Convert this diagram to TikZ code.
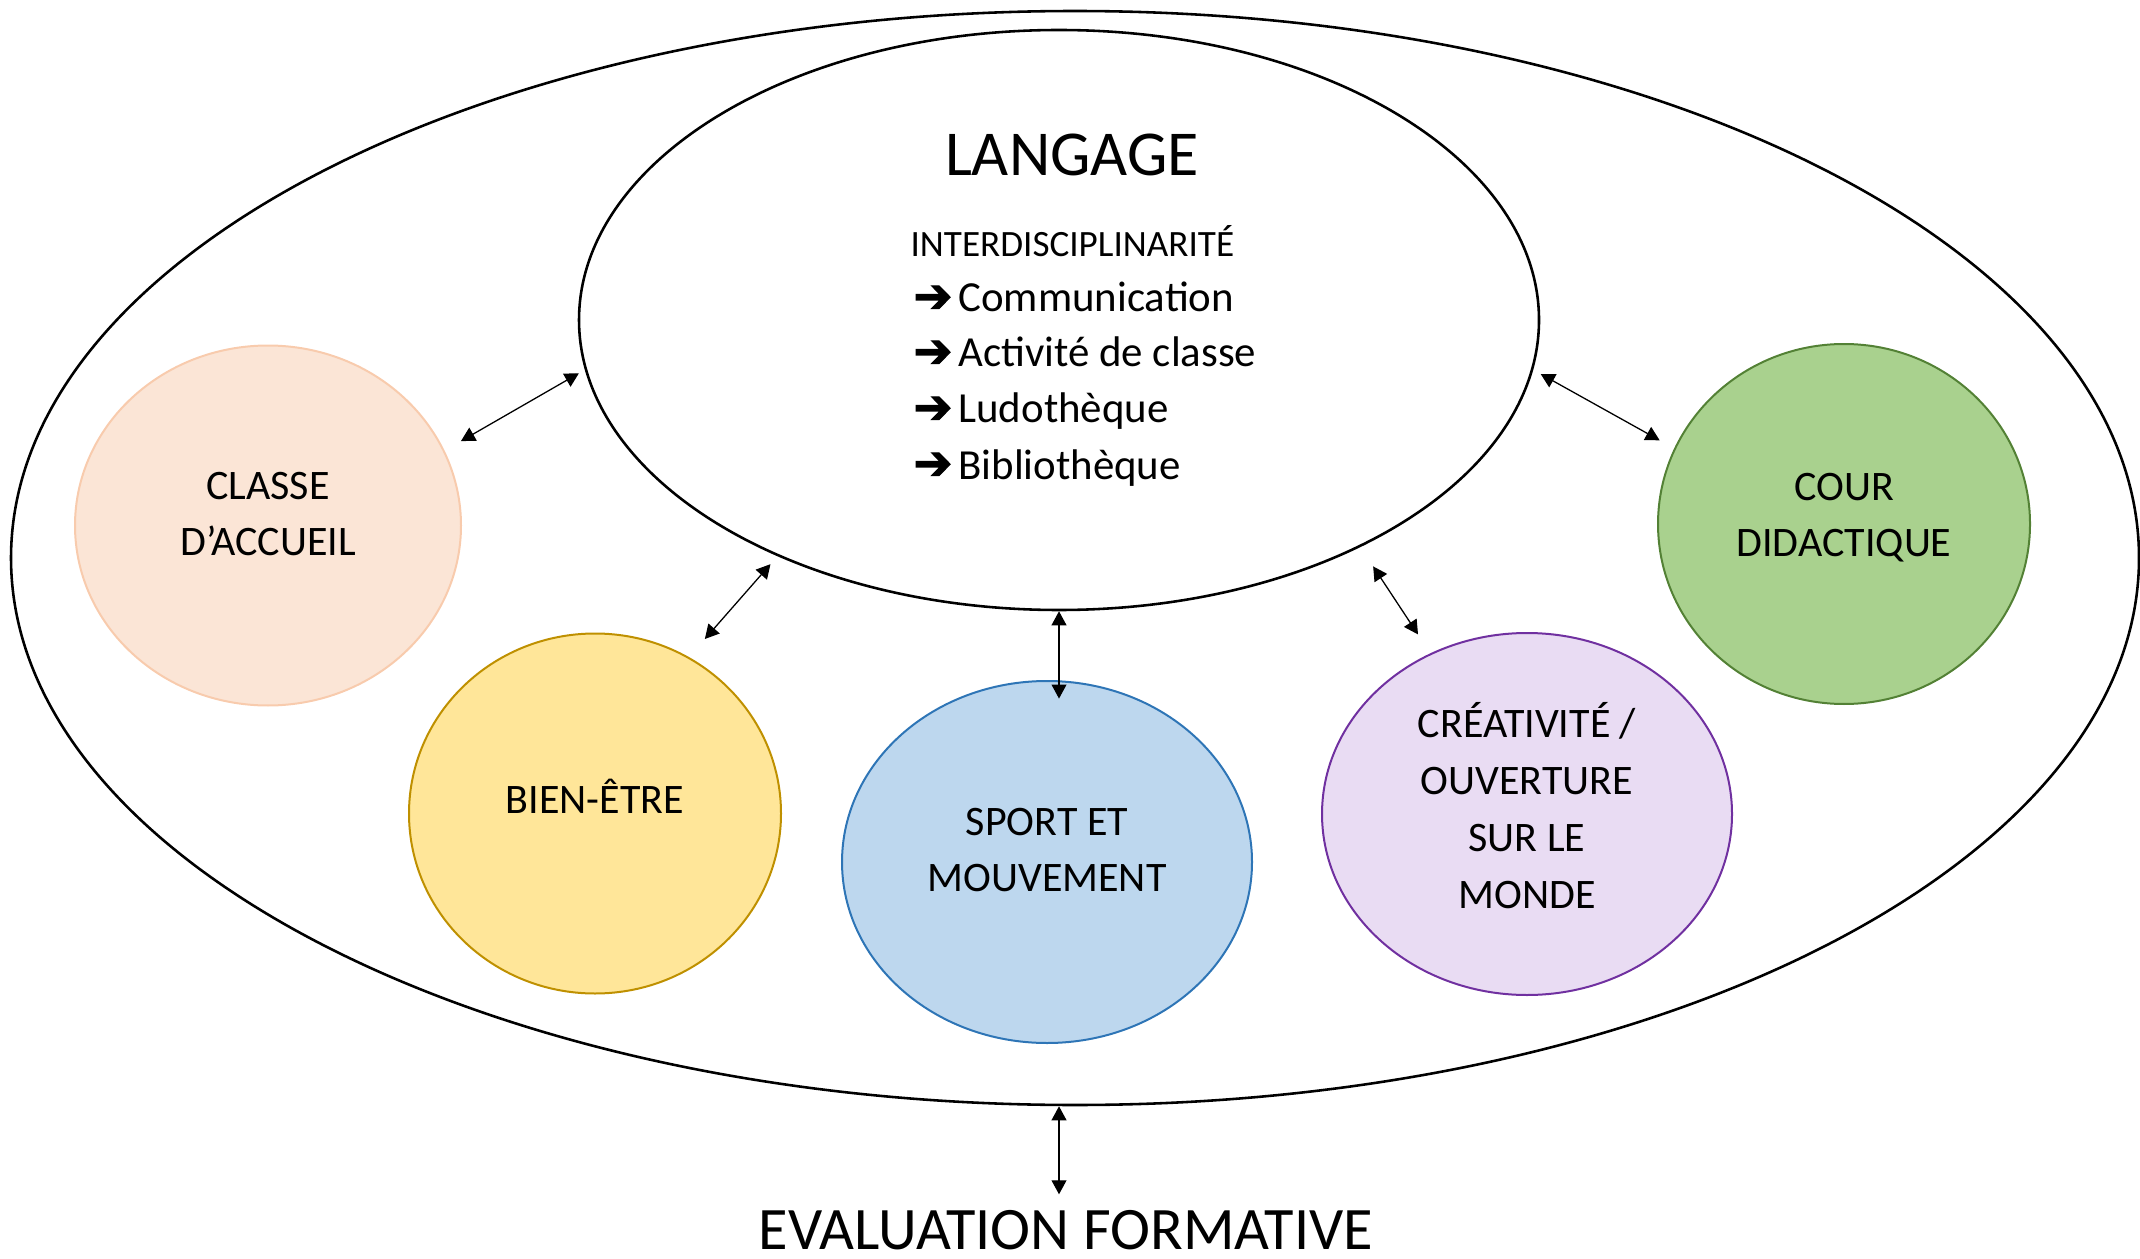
\documentclass[tikz,border=0pt]{standalone}
\usepackage{fontspec}
\setmainfont{Carlito}
\newfontfamily\symb{DejaVu Sans}[FakeBold=2.5]
\usepackage{tikz}
\usetikzlibrary{shapes.geometric, arrows.meta, positioning, calc}

\definecolor{accueilfill}{HTML}{FBE5D6}
\definecolor{accueildraw}{HTML}{F8CBAD}
\definecolor{bienfill}{HTML}{FFE699}
\definecolor{biendraw}{HTML}{BF9000}
\definecolor{sportfill}{HTML}{BDD7EE}
\definecolor{sportdraw}{HTML}{2E75B6}
\definecolor{creafill}{HTML}{E9DCF3}
\definecolor{creadraw}{HTML}{7030A0}
\definecolor{courfill}{HTML}{A9D18E}
\definecolor{courdraw}{HTML}{538135}

\newcommand{\fleche}{\makebox[15.7pt][l]{\symb\scalebox{1.08}[1.1]{➔}}}

\begin{document}
\begin{tikzpicture}[
    x=0.35pt, y=-0.35pt,
    cadre/.style={ellipse, draw, line width=0.9pt, inner sep=0pt},
    bulle/.style={ellipse, draw, line width=0.7pt, align=center, inner sep=0pt,
        text depth=8.3pt, font=\fontsize{14.7}{19.5}\selectfont},
    liste/.style={anchor=base west, inner sep=0pt, font=\fontsize{15}{18}\selectfont},
    arrow/.style={{Triangle[length=4.9pt,width=5.2pt]}-{Triangle[length=4.9pt,width=5.2pt]}, line width=0.45pt}
]
    \useasboundingbox (0,0) rectangle (2140,1258);

    % the two big frames
    \node [cadre, minimum width=744.8pt, minimum height=382.9pt] (outer) at (1075,558) {};
    \node [cadre, minimum width=336pt, minimum height=203pt] (langage) at (1059,320) {};

    \node [anchor=base, inner sep=0pt, font=\fontsize{22.4}{24}\selectfont] (titre) at (1072,176) {LANGAGE};
    \node [anchor=base west, inner sep=0pt, font=\fontsize{13}{15}\selectfont] (inter) at (910,257) {INTERDISCIPLINARIT\'E};
    \node [liste] (comm) at (913,312) {\fleche Communication};
    \node [liste] (activ) at (913,367) {\fleche Activit\'e de classe};
    \node [liste] (ludo) at (913,423) {\fleche Ludoth\`eque};
    \node [liste] (biblio) at (913,479) {\fleche Biblioth\`eque};

    % the five fields
    \node [bulle, fill=accueilfill, draw=accueildraw, minimum width=135.1pt, minimum height=126pt] (accueil) at (268,525.5) {CLASSE\\D’ACCUEIL};
    \node [bulle, fill=bienfill, draw=biendraw, minimum width=130.2pt, minimum height=126pt, text height=9.3pt, text depth=9.3pt] (bien) at (595,813.5) {BIEN-\^ETRE};
    \node [bulle, fill=sportfill, draw=sportdraw, minimum width=143.5pt, minimum height=126.7pt] (sport) at (1047,862) {SPORT ET\\MOUVEMENT};
    \node [bulle, fill=creafill, draw=creadraw, minimum width=143.5pt, minimum height=126.7pt, font=\fontsize{14.7}{19.9}\selectfont, text depth=6.1pt] (crea) at (1527,814) {CR\'EATIVIT\'E /\\OUVERTURE\\SUR LE\\MONDE};
    \node [bulle, fill=courfill, draw=courdraw, minimum width=130.2pt, minimum height=126pt, text depth=6.4pt] (cour) at (1844,524) {COUR\\DIDACTIQUE};

    \node [anchor=base, inner sep=0pt, font=\fontsize{21.1}{24}\selectfont] (eval) at (1066,1249) {EVALUATION FORMATIVE};

    % links
    \draw [arrow, shorten <=6.6pt, shorten >=2.4pt] (accueil.23.6) -- (langage.186);
    \draw [arrow, shorten <=8.4pt, shorten >=3.7pt] (bien.59.3) -- (langage.220.4);
    \draw [arrow, shorten >=-6.5pt] (langage.south) -- (langage.south |- sport.north);
    \draw [arrow, shorten <=8.1pt, shorten >=7.9pt] (langage.-37.9) -- (crea.121.1);
    \draw [arrow, shorten <=3pt, shorten >=5.8pt] (langage.-6.1) -- (cour.156.4);
    \draw [arrow, shorten >=5.25pt] (outer.south -| langage.south) -- (eval.north -| langage.south);
\end{tikzpicture}
\end{document}
